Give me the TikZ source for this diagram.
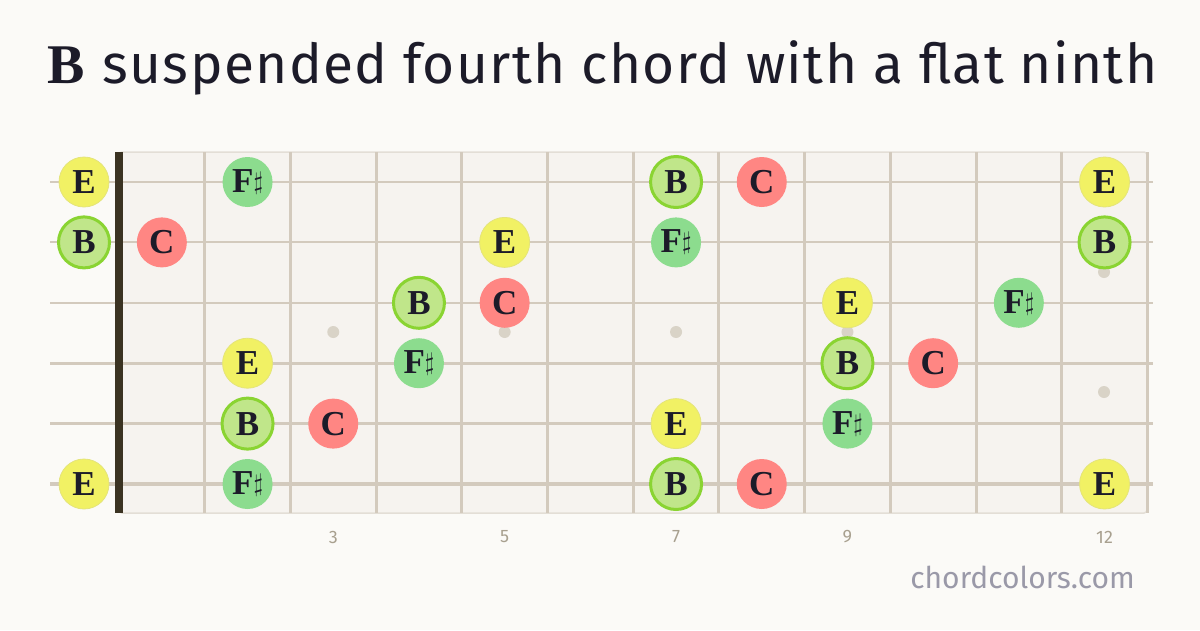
\documentclass[tikz,border=0pt]{standalone}
\usepackage{fontspec}
\setmainfont{Fira Sans}
\newfontfamily\titlefont[LetterSpace=2.5]{Fira Sans}
\newfontfamily\notefont{Liberation Serif}
\usepackage{tikz}
\definecolor{paper}{HTML}{FBFAF7}
\definecolor{board}{HTML}{F6F3EF}
\definecolor{boardedge}{HTML}{E3DED6}
\definecolor{fretcol}{HTML}{D3CABD}
\definecolor{nutcol}{HTML}{3B3322}
\definecolor{ink}{HTML}{1C1B29}
\definecolor{dotcol}{HTML}{D9D3C7}
\definecolor{numcol}{HTML}{A8A08F}
\definecolor{sitecol}{HTML}{9A99A8}
\definecolor{fillE}{HTML}{F1F164}
\definecolor{edgeE}{HTML}{E4E47A}
\definecolor{fillB}{HTML}{C0E68A}
\definecolor{edgeB}{HTML}{8AD432}
\definecolor{fillF}{HTML}{8CDC8E}
\definecolor{fillC}{HTML}{FF8683}
\newcommand{\shp}{\raisebox{3pt}{$\sharp$}}

\tikzset{
  note/.style={circle, inner sep=0pt, minimum size=50pt, text=ink,
    font=\notefont\bfseries\fontsize{35}{35}\selectfont},
  noteE/.style={note, fill=fillE, draw=edgeE, line width=0.8pt},
  noteB/.style={note, fill=fillB, draw=edgeB, line width=3pt, minimum size=51pt},
  noteF/.style={note, fill=fillF},
  noteC/.style={note, fill=fillC},
  fret/.style={draw=fretcol, line width=3pt},
  fretnum/.style={text=numcol, font=\fontsize{18}{18}\selectfont},
}

\begin{document}
\begin{tikzpicture}[x=1pt, y=-1pt]
		\useasboundingbox[fill=paper] (0,0) rectangle (1200,630);

		% title
		\node[anchor=base west, inner sep=0pt, text=ink] (title) at (47,83)
			{{\notefont\bfseries\fontsize{56}{56}\selectfont B}\hspace{18pt}{\titlefont\fontsize{55}{55}\selectfont suspended fourth chord with a flat ninth}};

		% board
		\draw[fill=board, draw=boardedge, line width=1.5pt, rounded corners=3pt] (119,152) rectangle (1147,513);
		\foreach \f in {1,...,12}
		\draw[fret] ({119+85.7*\f},152) -- ({119+85.7*\f},513);

		% inlay dots
		\foreach \f in {3,5,7,9}
		\fill[dotcol] ({119+85.7*(\f-0.5)},332) circle[radius=6pt];
		\fill[dotcol] (1104,272) circle[radius=6pt];
		\fill[dotcol] (1104,392) circle[radius=6pt];

		% strings
		\foreach \s/\w in {1/1.6,2/2,3/2.4,4/2.8,5/3.2,6/3.8}
		\draw[fretcol, line width=\w pt] (50,{182+60.4*(\s-1)}) -- (1153,{182+60.4*(\s-1)});

		% nut
		\draw[nutcol, line width=8pt] (119,152) -- (119,513);

		% fret numbers
		\foreach \f in {3,5,7,9,12}
		\node[fretnum] (num\f) at ({119+85.7*(\f-0.5)},537) {\f};

		% notes
		\foreach \s/\f/\n/\t in {
			1/0/E/E, 1/2/F/F\shp, 1/7/B/B, 1/8/C/C, 1/12/E/E,
			2/0/B/B, 2/1/C/C, 2/5/E/E, 2/7/F/F\shp, 2/12/B/B,
			3/4/B/B, 3/5/C/C, 3/9/E/E, 3/11/F/F\shp,
			4/2/E/E, 4/4/F/F\shp, 4/9/B/B, 4/10/C/C,
			5/2/B/B, 5/3/C/C, 5/7/E/E, 5/9/F/F\shp,
			6/0/E/E, 6/2/F/F\shp, 6/7/B/B, 6/8/C/C, 6/12/E/E}{
			\pgfmathsetmacro\nx{\f==0 ? 84 : 119+85.7*(\f-0.5)}
			\node[note\n] (s\s f\f) at (\nx,{182+60.4*(\s-1)}) {\t};
		}

		% site
		\node[anchor=base east, inner sep=0pt, text=sitecol, font=\fontsize{30}{30}\selectfont] (site) at (1135,588) {chordcolors.com};
	\end{tikzpicture}
\end{document}
